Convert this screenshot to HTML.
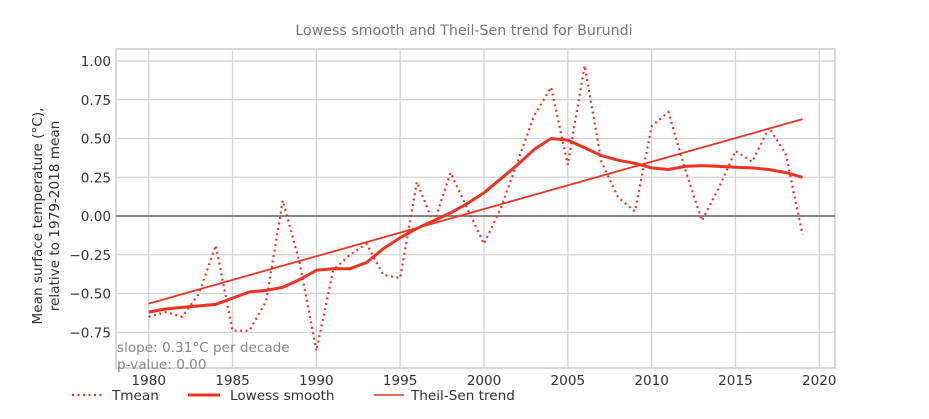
<!DOCTYPE html>
<html><head><meta charset="utf-8"><style>
body{margin:0;background:#fff;width:929px;height:414px;overflow:hidden;font-family:"Liberation Sans","DejaVu Sans",sans-serif}
</style></head><body>
<svg id="s" width="929" height="414" xmlns="http://www.w3.org/2000/svg" font-family="DejaVu Sans, Liberation Sans, sans-serif">
<text x="464" y="35" text-anchor="middle" font-size="14.2" fill="#777">Lowess smooth and Theil-Sen trend for Burundi</text>
<rect x="116" y="49" width="719" height="319" fill="#fff" stroke="#ccc" stroke-width="1.5"/>
<g id="grid" stroke="#d4d4d4" stroke-width="1.3"></g>
<line x1="116" y1="216" x2="835" y2="216" stroke="#777" stroke-width="1.8"/>
<g id="series"></g>
<g id="labels" font-size="13.6" fill="#333"></g>
<text transform="translate(42,216) rotate(-90)" text-anchor="middle" font-size="13.6" fill="#333">Mean surface temperature (°C),</text>
<text transform="translate(59,216) rotate(-90)" text-anchor="middle" font-size="13.6" fill="#333">relative to 1979-2018 mean</text>
<text x="117" y="352" font-size="13.6" fill="#888">slope: 0.31°C per decade</text>
<text x="117" y="369" font-size="13.6" fill="#888">p-value: 0.00</text>
<line x1="72" y1="395" x2="102" y2="395" stroke="#ee3322" stroke-width="2.2" stroke-dasharray="2,3.5"/>
<text x="112" y="400" font-size="13.6" fill="#333">Tmean</text>
<line x1="188" y1="395" x2="220" y2="395" stroke="#ee3322" stroke-width="3"/>
<text x="230" y="400" font-size="13.6" fill="#333">Lowess smooth</text>
<line x1="374" y1="395" x2="404" y2="395" stroke="#ee3322" stroke-width="1.6"/>
<text x="411" y="400" font-size="13.6" fill="#333">Theil-Sen trend</text>
</svg>
<script>
var X=function(y){return 148.7+(y-1980)*16.765},Y=function(v){return 216-155*v};
var ns="http://www.w3.org/2000/svg",g=document.getElementById('grid'),L=document.getElementById('labels'),S=document.getElementById('series');
function el(p,t,a,txt){var e=document.createElementNS(ns,t);for(var k in a)e.setAttribute(k,a[k]);if(txt)e.textContent=txt;p.appendChild(e);return e}
for(var yr=1980;yr<=2020;yr+=5){el(g,'line',{x1:X(yr),x2:X(yr),y1:49,y2:368});el(L,'text',{x:X(yr),y:385,'text-anchor':'middle'},String(yr))}
for(var i=-3;i<=4;i++){var v=i*0.25;el(g,'line',{x1:116,x2:835,y1:Y(v),y2:Y(v)});el(L,'text',{x:111,y:Y(v)+5,'text-anchor':'end'},(v<0?'\u2212':'')+Math.abs(v).toFixed(2))}
var t=[-0.65,-0.62,-0.65,-0.5,-0.19,-0.74,-0.74,-0.55,0.1,-0.3,-0.87,-0.35,-0.25,-0.18,-0.38,-0.4,0.22,-0.05,0.28,0.05,-0.18,0.05,0.35,0.65,0.83,0.33,0.97,0.35,0.12,0.03,0.58,0.67,0.3,-0.03,0.18,0.42,0.35,0.57,0.4,-0.12];
var l=[-0.62,-0.6,-0.59,-0.58,-0.57,-0.53,-0.49,-0.48,-0.46,-0.41,-0.35,-0.34,-0.34,-0.3,-0.21,-0.14,-0.08,-0.03,0.02,0.08,0.15,0.24,0.33,0.43,0.5,0.49,0.44,0.39,0.36,0.34,0.31,0.30,0.32,0.325,0.32,0.315,0.31,0.3,0.28,0.25];
function pts(a){return a.map(function(v,i){return X(1980+i).toFixed(1)+','+Y(v).toFixed(1)}).join(' ')}
el(S,'polyline',{points:pts(t),fill:'none',stroke:'#ee3322','stroke-width':2.2,'stroke-dasharray':'2,3.5'});
el(S,'polyline',{points:pts(l),fill:'none',stroke:'#ee3322','stroke-width':3,'stroke-linejoin':'round'});
el(S,'line',{x1:X(1980),y1:Y(-0.565),x2:X(2019),y2:Y(0.625),stroke:'#ee3322','stroke-width':1.8});
</script>
</body></html>
